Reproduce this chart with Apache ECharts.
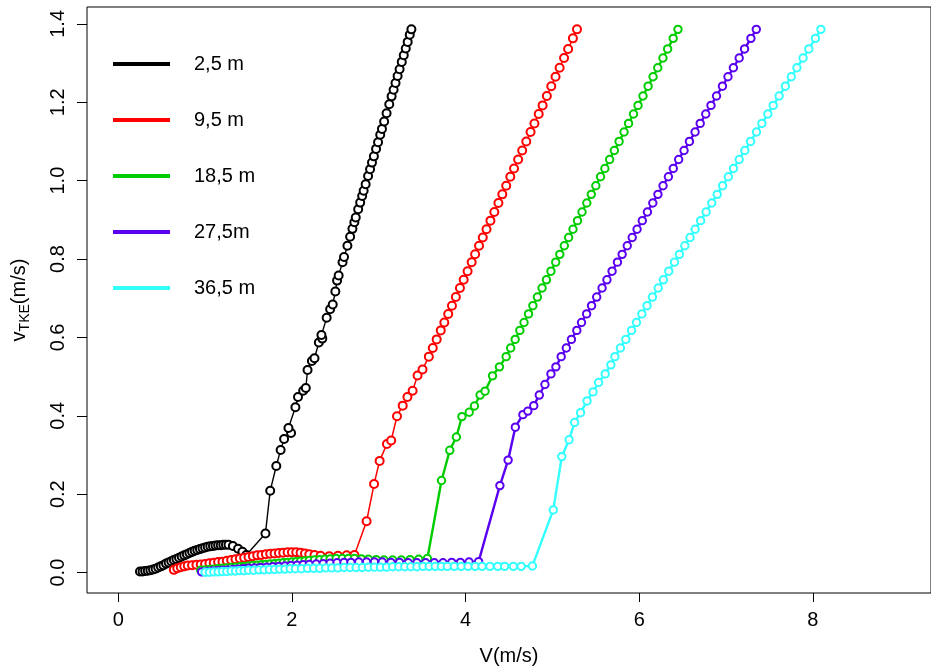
<!DOCTYPE html>
<html><head><meta charset="utf-8">
<script src="https://cdn.jsdelivr.net/npm/echarts@6/dist/echarts.min.js"></script>
<style>html,body{margin:0;padding:0;background:#fff}#c{width:931px;height:671px}</style>
</head><body><div id="c"></div>
<script>
const seriesNames = ['2,5 m', '9,5 m', '18,5 m', '27,5m', '36,5 m'];
const seriesColors = ['#000000', '#FF0000', '#00CD00', '#5A00F0', '#33FFFF'];
const xTicks = [0, 2, 4, 6, 8];
const yTicks = [0, 0.2, 0.4, 0.6, 0.8, 1.0, 1.2, 1.4];

// 2,5 m : lower loop then rising branch
const blackX = [0.25,0.28,0.31,0.34,0.37,0.40,0.43,0.46,0.49,0.52,0.55,0.58,0.61,0.64,0.67,0.70,0.73,0.76,0.79,0.82,0.85,0.88,0.91,0.94,0.97,1.00,1.03,1.06,1.09,1.12,1.15,1.18,1.21,1.24,1.27,1.32,1.38,1.43,1.475,
  1.695,1.75,1.82,1.87,1.91,1.99,1.96,2.04,2.07,2.13,2.16,2.18,2.23,2.26,2.31,2.35,2.34,2.40,2.44,2.47,2.50,2.52,2.538,2.583,2.60,2.639,2.670,2.697,2.719,2.735,2.763,2.786,2.809,2.826,2.849,2.877,2.900,2.922,2.944,2.969,2.992,3.017,3.037,3.062,3.090,3.121,3.148,3.171,3.193,3.217,3.240,3.265,3.288,3.311,3.333,3.357,3.376];
const blackY = [0.003,0.003,0.004,0.005,0.006,0.008,0.010,0.013,0.016,0.019,0.023,0.026,0.029,0.032,0.035,0.038,0.041,0.044,0.047,0.050,0.053,0.056,0.058,0.060,0.062,0.064,0.066,0.067,0.068,0.069,0.070,0.070,0.071,0.071,0.071,0.068,0.061,0.053,0.045,
  0.100,0.209,0.272,0.313,0.341,0.356,0.369,0.422,0.448,0.464,0.471,0.517,0.540,0.547,0.587,0.597,0.606,0.650,0.672,0.684,0.717,0.745,0.758,0.792,0.805,0.834,0.857,0.877,0.894,0.906,0.927,0.944,0.961,0.974,0.991,1.012,1.029,1.046,1.062,1.081,1.098,1.117,1.132,1.151,1.172,1.195,1.215,1.232,1.249,1.267,1.284,1.303,1.320,1.337,1.354,1.372,1.386];

// 9,5 m
const redX = [0.64,0.68,0.72,0.76,0.80,0.85,0.90,0.95,1.00,1.05,1.10,1.15,1.20,1.25,1.30,1.35,1.40,1.45,1.50,1.55,1.60,1.65,1.70,1.75,1.80,1.85,1.90,1.95,2.00,2.05,2.10,2.15,2.20,2.26,2.33,2.43,2.53,2.63,2.72,
  2.86,2.946,3.01,3.094,3.143,3.21,3.276,3.33,3.39,3.447,3.504,3.577,3.622,3.667,3.714,3.755,3.800,3.843,3.888,3.935,3.978,4.023,4.070,4.110,4.155,4.198,4.241,4.286,4.331,4.378,4.423,4.468,4.515,4.558,4.605,4.652,4.699,4.748,4.793,4.842,4.887,4.936,4.987,5.036,5.083,5.134,5.181,5.236,5.283];
const redY = [0.007,0.011,0.014,0.016,0.018,0.019,0.020,0.021,0.022,0.024,0.025,0.027,0.028,0.030,0.032,0.034,0.036,0.038,0.040,0.042,0.044,0.045,0.047,0.048,0.049,0.050,0.051,0.052,0.052,0.052,0.051,0.049,0.047,0.045,0.043,0.042,0.043,0.044,0.045,
  0.131,0.226,0.285,0.328,0.337,0.399,0.426,0.448,0.464,0.503,0.518,0.551,0.573,0.595,0.618,0.638,0.660,0.681,0.703,0.726,0.747,0.769,0.792,0.812,0.834,0.855,0.876,0.898,0.920,0.943,0.965,0.987,1.010,1.031,1.054,1.077,1.100,1.124,1.146,1.170,1.192,1.216,1.241,1.265,1.288,1.313,1.336,1.363,1.386];

// 18,5 m
const greenX = [0.95,1.00,1.05,1.10,1.15,1.20,1.25,1.30,1.35,1.40,1.45,1.50,1.55,1.60,1.65,1.70,1.75,1.80,1.85,1.90,1.95,2.00,2.05,2.10,2.15,2.20,2.26,2.32,2.38,2.44,2.51,2.58,2.65,2.72,2.80,2.88,2.97,3.06,3.16,3.26,3.36,3.46,3.56,
  3.723,3.818,3.894,3.958,4.042,4.102,4.167,4.224,4.31,4.39,4.467,4.519,4.571,4.625,4.673,4.725,4.775,4.827,4.881,4.931,4.983,5.038,5.085,5.137,5.187,5.237,5.289,5.341,5.396,5.448,5.500,5.554,5.604,5.659,5.713,5.768,5.825,5.877,5.934,5.986,6.043,6.102,6.159,6.213,6.273,6.327,6.391,6.446];
const greenY = [0.006,0.007,0.008,0.009,0.010,0.011,0.012,0.013,0.014,0.015,0.016,0.017,0.018,0.019,0.020,0.021,0.022,0.023,0.024,0.025,0.026,0.027,0.028,0.029,0.030,0.031,0.032,0.033,0.034,0.035,0.036,0.036,0.036,0.036,0.035,0.034,0.033,0.032,0.032,0.032,0.033,0.034,0.036,
  0.235,0.312,0.346,0.398,0.409,0.425,0.453,0.463,0.502,0.525,0.551,0.573,0.595,0.618,0.638,0.660,0.681,0.703,0.726,0.747,0.769,0.792,0.812,0.834,0.855,0.876,0.898,0.920,0.943,0.965,0.987,1.010,1.031,1.054,1.077,1.100,1.124,1.146,1.170,1.192,1.216,1.241,1.265,1.288,1.313,1.336,1.363,1.386];

// 27,5 m
const purpleX = [0.96,1.02,1.08,1.14,1.20,1.26,1.32,1.38,1.44,1.50,1.57,1.64,1.71,1.78,1.85,1.92,1.99,2.06,2.13,2.20,2.28,2.36,2.44,2.52,2.60,2.68,2.77,2.86,2.95,3.04,3.14,3.24,3.34,3.44,3.54,3.64,3.74,3.84,3.94,4.04,4.15,
  4.395,4.49,4.573,4.660,4.717,4.785,4.849,4.914,4.983,5.04,5.101,5.160,5.219,5.281,5.335,5.394,5.451,5.510,5.572,5.628,5.687,5.749,5.803,5.862,5.919,5.975,6.035,6.094,6.156,6.215,6.274,6.336,6.392,6.454,6.516,6.578,6.643,6.702,6.766,6.826,6.890,6.958,7.022,7.084,7.151,7.213,7.286,7.348];
const purpleY = [0.002,0.003,0.004,0.005,0.006,0.007,0.008,0.009,0.010,0.011,0.012,0.013,0.014,0.015,0.016,0.017,0.018,0.019,0.020,0.021,0.022,0.023,0.024,0.025,0.026,0.026,0.027,0.027,0.027,0.027,0.026,0.026,0.025,0.025,0.025,0.025,0.025,0.026,0.026,0.027,0.028,
  0.222,0.287,0.371,0.403,0.412,0.426,0.453,0.480,0.507,0.525,0.551,0.573,0.595,0.618,0.638,0.660,0.681,0.703,0.726,0.747,0.769,0.792,0.812,0.834,0.855,0.876,0.898,0.920,0.943,0.965,0.987,1.010,1.031,1.054,1.077,1.100,1.124,1.146,1.170,1.192,1.216,1.241,1.265,1.288,1.313,1.336,1.363,1.386];

// 36,5 m
const cyanX = [1.00,1.05,1.10,1.15,1.20,1.25,1.30,1.35,1.40,1.45,1.50,1.56,1.62,1.68,1.74,1.80,1.86,1.92,1.98,2.04,2.11,2.18,2.25,2.32,2.39,2.46,2.53,2.60,2.67,2.74,2.81,2.88,2.95,3.02,3.09,3.16,3.23,3.30,3.37,3.44,3.51,3.58,3.65,3.72,3.79,3.87,3.95,4.03,4.11,4.19,4.28,4.37,4.45,4.55,4.64,4.77,
  5.01,5.108,5.192,5.256,5.324,5.399,5.468,5.532,5.608,5.673,5.720,5.783,5.845,5.911,5.968,6.030,6.090,6.152,6.218,6.278,6.340,6.406,6.462,6.525,6.585,6.644,6.707,6.770,6.835,6.898,6.960,7.026,7.085,7.151,7.216,7.282,7.350,7.412,7.481,7.543,7.611,7.683,7.751,7.816,7.887,7.953,8.029,8.092];
const cyanY = [0.001,0.001,0.002,0.002,0.003,0.003,0.004,0.004,0.005,0.005,0.006,0.006,0.007,0.007,0.008,0.008,0.009,0.009,0.010,0.010,0.010,0.011,0.011,0.011,0.012,0.012,0.012,0.013,0.013,0.013,0.013,0.014,0.014,0.014,0.014,0.015,0.015,0.015,0.015,0.015,0.016,0.016,0.016,0.016,0.016,0.016,0.016,0.016,0.016,0.016,0.016,0.016,0.016,0.016,0.016,0.017,
  0.160,0.296,0.339,0.383,0.408,0.438,0.461,0.485,0.507,0.530,0.551,0.573,0.595,0.618,0.638,0.660,0.681,0.703,0.726,0.747,0.769,0.792,0.812,0.834,0.855,0.876,0.898,0.920,0.943,0.965,0.987,1.010,1.031,1.054,1.077,1.100,1.124,1.146,1.170,1.192,1.216,1.241,1.265,1.288,1.313,1.336,1.363,1.386];

const allX = [blackX, redX, greenX, purpleX, cyanX];
const allY = [blackY, redY, greenY, purpleY, cyanY];
const ringWidth = [1.3, 1.4, 2.3, 2.3, 2.3];
const lineWidth = [1.4, 1.5, 2.4, 2.4, 2.4];
const symSize = [8, 8, 7.4, 7.4, 7.4];

const FONT = '"Liberation Sans", Arial, Helvetica, sans-serif';
const chart = echarts.init(document.getElementById('c'), null, {renderer: 'canvas'});

const series = seriesNames.map((name, i) => ({
  type: 'line',
  name: name,
  data: allX[i].map((x, k) => [x, allY[i][k]]),
  color: seriesColors[i],
  symbol: 'emptyCircle',
  symbolSize: symSize[i],
  showSymbol: true,
  showAllSymbol: true,
  lineStyle: {color: seriesColors[i], width: lineWidth[i]},
  itemStyle: {color: seriesColors[i], borderColor: seriesColors[i], borderWidth: ringWidth[i]},
  emphasis: {disabled: true},
  silent: true,
  animation: false
}));

chart.setOption({
  animation: false,
  backgroundColor: '#fff',
  textStyle: {fontFamily: FONT},
  grid: {left: 87, top: 7, right: -10, bottom: 75, show: true, borderColor: '#000', borderWidth: 1, backgroundColor: 'transparent'},
  legend: {
    orient: 'vertical', left: 113, top: 54, padding: 0, itemWidth: 55, itemHeight: 2, itemGap: 36,
    icon: 'rect', selectedMode: false,
    data: seriesNames,
    textStyle: {fontSize: 20, color: '#000', fontFamily: FONT, lineHeight: 20, padding: [0, 0, 0, 20]}
  },
  xAxis: {
    type: 'value', min: -0.36, max: 9.36,
    splitLine: {show: false},
    axisLine: {show: false, onZero: false},
    axisTick: {show: true, customValues: xTicks, length: 9, lineStyle: {color: '#000', width: 1}},
    axisLabel: {customValues: xTicks, fontSize: 20, color: '#000', margin: 17, fontFamily: FONT},
    name: 'V(m/s)', nameLocation: 'middle', nameGap: 53,
    nameTextStyle: {fontSize: 20, color: '#000', fontFamily: FONT}
  },
  yAxis: {
    type: 'value', min: -0.052, max: 1.443,
    splitLine: {show: false},
    axisLine: {show: false, onZero: false},
    axisTick: {show: true, customValues: yTicks, length: 10, lineStyle: {color: '#000', width: 1}},
    axisLabel: {customValues: yTicks, rotate: 90, fontSize: 20, color: '#000', margin: 19, fontFamily: FONT,
      formatter: v => v.toFixed(1)},
    name: '{a|v}{b|TKE}{a|(m/s)}', nameLocation: 'middle', nameGap: 58, nameRotate: 90,
    nameTextStyle: {color: '#000', fontFamily: FONT,
      rich: {a: {fontSize: 20, color: '#000', fontFamily: FONT, lineHeight: 26, verticalAlign: 'bottom'},
             b: {fontSize: 14, color: '#000', fontFamily: FONT, lineHeight: 26, verticalAlign: 'bottom', padding: [0, 0, -3, 0]}}}
  },
  series: series
});
</script></body></html>
